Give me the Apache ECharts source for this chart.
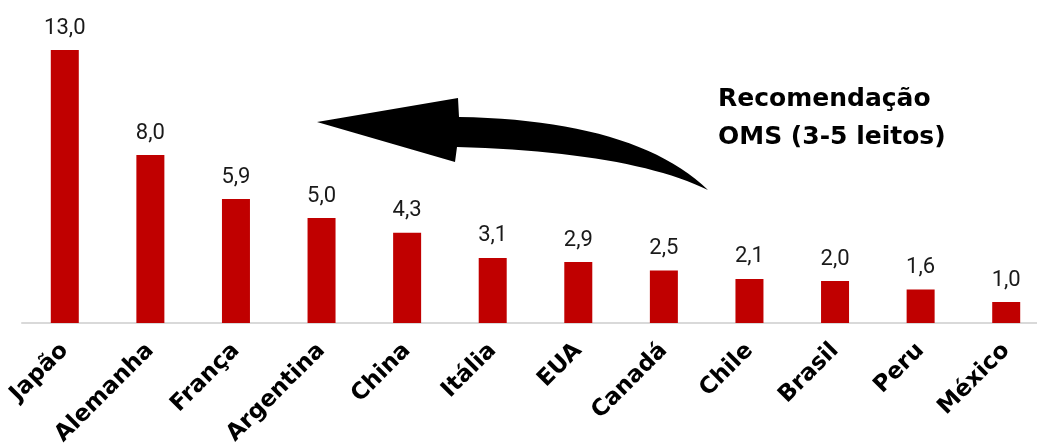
<!DOCTYPE html>
<html><head><meta charset="utf-8">
<script src="https://cdn.jsdelivr.net/npm/echarts@6/dist/echarts.min.js"></script>
<style>html,body{margin:0;padding:0;background:#fff}#c{width:1037px;height:448px}</style>
</head><body><div id="c"></div>
<script>
const categories = ['Japão','Alemanha','França','Argentina','China','Itália','EUA','Canadá','Chile','Brasil','Peru','México'];
const values = [13.0, 8.0, 5.9, 5.0, 4.3, 3.1, 2.9, 2.5, 2.1, 2.0, 1.6, 1.0];
const annotationLines = ['Recomendação', 'OMS (3-5 leitos)'];

function quad(p0, c, p1, n) {
  const pts = [];
  for (let i = 1; i <= n; i++) {
    const t = i / n, u = 1 - t;
    pts.push([u*u*p0[0] + 2*u*t*c[0] + t*t*p1[0], u*u*p0[1] + 2*u*t*c[1] + t*t*p1[1]]);
  }
  return pts;
}
const arrowPts = [[317,122],[458,98],[459,117]]
  .concat(quad([459,117],[635,120],[708,190],24))
  .concat(quad([708,190],[630,152],[457,147],24))
  .concat([[455,162]]);

const chart = echarts.init(document.getElementById('c'));
chart.setOption({
  animation: false,
  grid: { left: 22, width: 1027, top: 29, height: 294, containLabel: false, outerBoundsMode: 'none' },
  xAxis: {
    type: 'category',
    data: categories,
    axisLine: { lineStyle: { color: '#d9d9d9', width: 2 } },
    axisTick: { show: false },
    axisLabel: {
      rotate: 45, margin: 24, interval: 0,
      fontFamily: 'DejaVu Sans', fontWeight: 'bold', fontSize: 23, color: '#000'
    }
  },
  yAxis: { type: 'value', min: 0, max: 14, show: false, splitLine: { show: false } },
  series: [{
    type: 'bar',
    data: values,
    barWidth: 28,
    itemStyle: { color: '#c00000' },
    label: {
      show: true, position: 'top', distance: 11,
      fontFamily: 'Roboto', fontSize: 22, color: '#1a1a1a',
      formatter: p => p.value.toFixed(1).replace('.', ',')
    }
  }],
  graphic: [
    {
      type: 'polygon',
      shape: { points: arrowPts },
      style: { fill: '#000' }
    },
    {
      type: 'text', left: 718, top: 80,
      style: { text: annotationLines.join('\n'), font: 'bold 25px "DejaVu Sans"', lineHeight: 38, fill: '#000' }
    }
  ]
});
</script></body></html>
